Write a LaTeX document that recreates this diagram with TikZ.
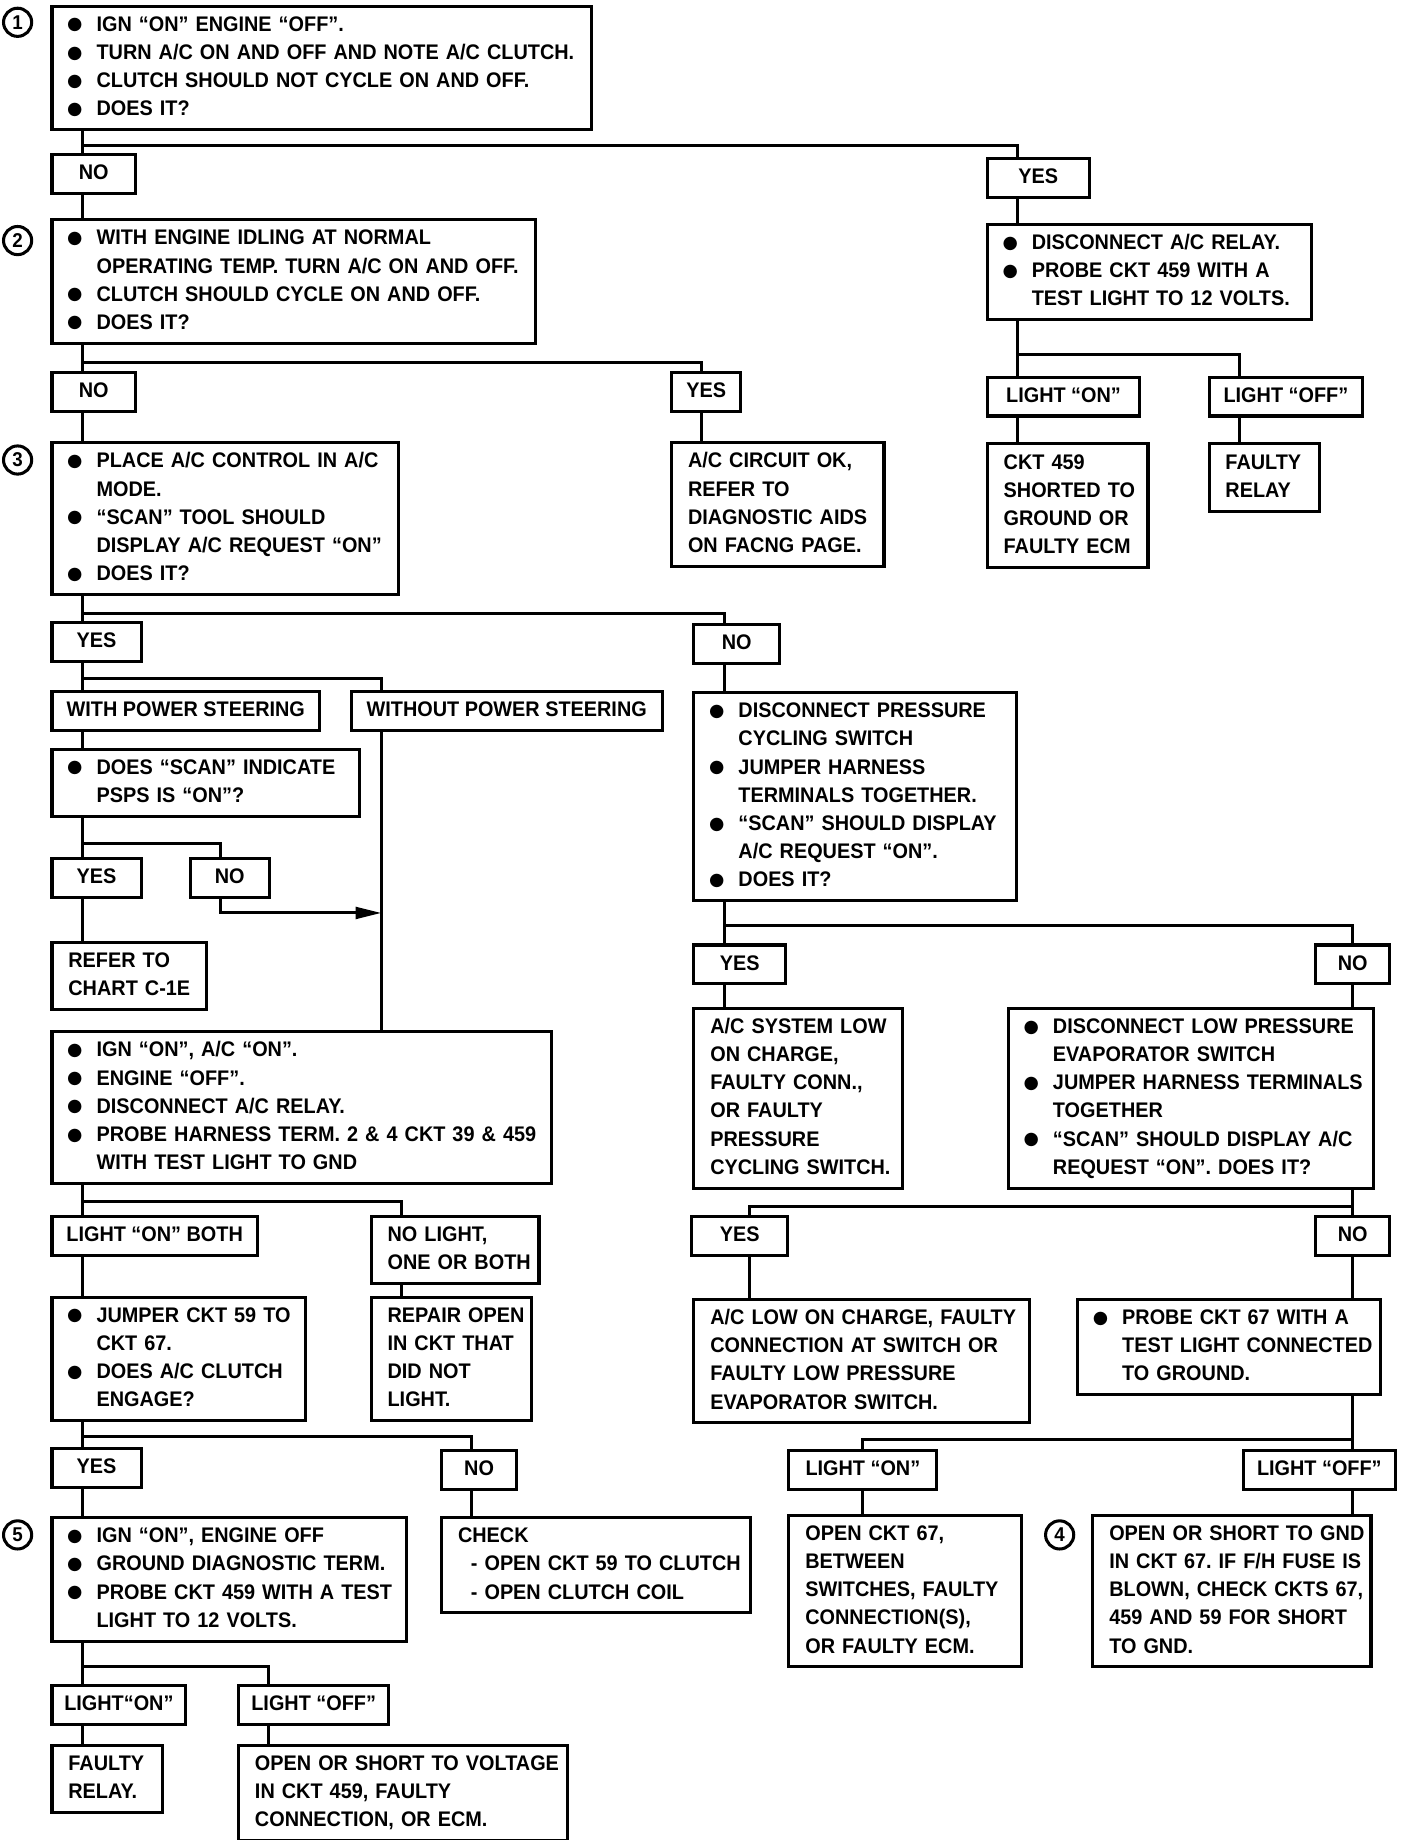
\documentclass[tikz,border=0pt]{standalone}
\usepackage{fontspec}
\setmainfont{Liberation Sans}[FakeStretch=0.94]
\newfontfamily\dotfont{DejaVu Sans}
\usetikzlibrary{arrows.meta}

\newcommand{\bul}{\makebox[12pt][l]{\hspace*{-0.5pt}\raisebox{0.6pt}{\dotfont\fontsize{7.5}{7.5}\selectfont ●}}}
\newcommand{\bulsp}{\hspace*{12pt}}

\begin{document}
\begin{tikzpicture}[
  x=0.5pt, y=-0.5pt,
  font=\bfseries\fontsize{9}{12}\selectfont\frenchspacing,
  line width=1.3pt,
  box/.style={draw, anchor=north west, align=left, inner xsep=7pt, inner ysep=2.3pt,
    execute at begin node={\rightskip=-10pt plus 1fil\strut}, execute at end node=\strut},
  tag/.style={draw, anchor=north west, inner xsep=4pt, inner ysep=2.3pt,
    execute at begin node=\strut},
  num/.style={draw, circle, inner sep=0pt, minimum size=12pt, font=\bfseries\fontsize{8.5}{8.5}\selectfont},
  tap/.style={xshift=13.5pt},
  arr/.style={-{Triangle[length=11pt,width=5pt]}}
]
\path[use as bounding box, fill=white] (0,0) rectangle (1200,1568);

% step 1
\node[num] (c1) at (15,19) {1};
\node[box, text width=216pt] (s1) at (43,4) {\bul IGN ``ON'' ENGINE ``OFF''.\\
\bul TURN A/C ON AND OFF AND NOTE A/C CLUTCH.\\
\bul CLUTCH SHOULD NOT CYCLE ON AND OFF.\\
\bul DOES IT?};
\node[tag, minimum width=35.5pt] (no1) at (43,130) {NO};
\node[tag, minimum width=43.5pt] (yes1) at (840,134) {YES};

% step 2
\node[num] (c2) at (15,205) {2};
\node[box, text width=192pt] (s2) at (43,186) {\bul WITH ENGINE IDLING AT NORMAL\\
\bulsp OPERATING TEMP. TURN A/C ON AND OFF.\\
\bul CLUTCH SHOULD CYCLE ON AND OFF.\\
\bul DOES IT?};
\node[box, text width=124pt] (r1) at (840,190) {\bul DISCONNECT A/C RELAY.\\
\bul PROBE CKT 459 WITH A\\
\bulsp TEST LIGHT TO 12 VOLTS.};
\node[tag, minimum width=35.5pt] (no2) at (43,316) {NO};
\node[tag, minimum width=29.5pt] (yes2) at (571,316) {YES};
\node[tag, minimum width=65pt] (lon1) at (840,320) {LIGHT ``ON''};
\node[tag, minimum width=65.5pt] (loff1) at (1029,320) {LIGHT ``OFF''};
\node[box, text width=76.5pt] (ok) at (571,376) {A/C CIRCUIT OK,\\ REFER TO\\ DIAGNOSTIC AIDS\\ ON FACNG PAGE.};
\node[box, text width=54.5pt] (r2) at (840,377) {CKT 459\\ SHORTED TO\\ GROUND OR\\ FAULTY ECM};
\node[box, text width=33pt] (r3) at (1029,377) {FAULTY\\ RELAY};

% step 3
\node[num] (c3) at (15,392) {3};
\node[box, text width=133.5pt] (s3) at (43,376) {\bul PLACE A/C CONTROL IN A/C\\
\bulsp MODE.\\
\bul ``SCAN'' TOOL SHOULD\\
\bulsp DISPLAY A/C REQUEST ``ON''\\
\bul DOES IT?};
\node[tag, minimum width=38pt] (yes3) at (43,529) {YES};
\node[tag, minimum width=36.5pt] (no3) at (590,531) {NO};
\node[tag, minimum width=114pt] (wps) at (43,588) {WITH POWER STEERING};
\node[tag, minimum width=132.5pt] (wops) at (298,588) {WITHOUT POWER STEERING};
\node[box, text width=117pt] (scan) at (43,637) {\bul DOES ``SCAN'' INDICATE\\
\bulsp PSPS IS ``ON''?};
\node[tag, minimum width=38pt] (yes4) at (43,730) {YES};
\node[tag, minimum width=33.5pt] (no4) at (161,730) {NO};
\node[box, align=center, text width=52pt, execute at begin node=\strut] (refer) at (43,802) {REFER TO\\ CHART C-1E};
\node[box, text width=199pt] (ign) at (43,878) {\bul IGN ``ON'', A/C ``ON''.\\
\bul ENGINE ``OFF''.\\
\bul DISCONNECT A/C RELAY.\\
\bul PROBE HARNESS TERM. 2 \& 4 CKT 39 \& 459\\
\bulsp WITH TEST LIGHT TO GND};
\node[tag, minimum width=87.5pt] (lonb) at (43,1035) {LIGHT ``ON'' BOTH};
\node[box, text width=57.5pt] (nol) at (315,1035) {NO LIGHT,\\ ONE OR BOTH};
\node[box, text width=94pt] (jump) at (43,1104) {\bul JUMPER CKT 59 TO\\
\bulsp CKT 67.\\
\bul DOES A/C CLUTCH\\
\bulsp ENGAGE?};
\node[box, text width=54.5pt] (repair) at (315,1104) {REPAIR OPEN\\ IN CKT THAT\\ DID NOT\\ LIGHT.};
\node[tag, minimum width=38pt] (yes5) at (43,1233) {YES};
\node[tag, minimum width=32pt] (no5) at (375,1235) {NO};

% step 5
\node[num] (c5) at (15,1308) {5};
\node[box, text width=137pt] (s5) at (43,1292) {\bul IGN ``ON'', ENGINE OFF\\
\bul GROUND DIAGNOSTIC TERM.\\
\bul PROBE CKT 459 WITH A TEST\\
\bulsp LIGHT TO 12 VOLTS.};
\node[box, text width=117.5pt] (check) at (375,1292) {CHECK\\
\hspace*{5.5pt}- OPEN CKT 59 TO CLUTCH\\
\hspace*{5.5pt}- OPEN CLUTCH COIL};
\node[tag, minimum width=57pt] (lon5) at (43,1435) {LIGHT``ON''};
\node[tag, minimum width=64pt] (loff5) at (202,1435) {LIGHT ``OFF''};
\node[box, text width=33pt] (frelay) at (43,1486) {FAULTY\\ RELAY.};
\node[box, text width=126pt] (volt) at (202,1486) {OPEN OR SHORT TO VOLTAGE\\ IN CKT 459, FAULTY\\ CONNECTION, OR ECM.};

% right column
\node[box, text width=123.5pt] (dp) at (590,589) {\bul DISCONNECT PRESSURE\\
\bulsp CYCLING SWITCH\\
\bul JUMPER HARNESS\\
\bulsp TERMINALS TOGETHER.\\
\bul ``SCAN'' SHOULD DISPLAY\\
\bulsp A/C REQUEST ``ON''.\\
\bul DOES IT?};
\node[tag, minimum width=39pt] (yes6) at (590,804) {YES};
\node[tag, minimum width=31.5pt] (no6) at (1120,804) {NO};
\node[box, text width=75pt] (sys) at (590,858) {A/C SYSTEM LOW\\ ON CHARGE,\\ FAULTY CONN.,\\ OR FAULTY\\ PRESSURE\\ CYCLING SWITCH.};
\node[box, text width=141.5pt] (dlp) at (858,858) {\bul DISCONNECT LOW PRESSURE\\
\bulsp EVAPORATOR SWITCH\\
\bul JUMPER HARNESS TERMINALS\\
\bulsp TOGETHER\\
\bul ``SCAN'' SHOULD DISPLAY A/C\\
\bulsp REQUEST ``ON''. DOES IT?};
\node[tag, minimum width=41pt] (yes7) at (588,1035) {YES};
\node[tag, minimum width=31.5pt] (no7) at (1120,1035) {NO};
\node[box, text width=129pt] (lowc) at (590,1106) {A/C LOW ON CHARGE, FAULTY\\ CONNECTION AT SWITCH OR\\ FAULTY LOW PRESSURE\\ EVAPORATOR SWITCH.};
\node[box, text width=115pt] (probe) at (917,1106) {\bul PROBE CKT 67 WITH A\\
\bulsp TEST LIGHT CONNECTED\\
\bulsp TO GROUND.};
\node[tag, minimum width=63pt] (lon8) at (671,1235) {LIGHT ``ON''};
\node[tag, minimum width=65pt] (loff8) at (1058,1235) {LIGHT ``OFF''};
\node[box, text width=85pt] (o67) at (671,1290) {OPEN CKT 67,\\ BETWEEN\\ SWITCHES, FAULTY\\ CONNECTION(S),\\ OR FAULTY ECM.};
\node[num] (c4) at (903,1308) {4};
\node[box, text width=104.5pt] (gnd) at (930,1290) {OPEN OR SHORT TO GND\\ IN CKT 67. IF F/H FUSE IS\\ BLOWN, CHECK CKTS 67,\\ 459 AND 59 FOR SHORT\\ TO GND.};

% connectors
\draw ([tap]s1.south west) -- ([tap]no1.north west);
\draw ([tap]s1.south west) ++(0,12) -| ([tap]yes1.north west);
\draw ([tap]no1.south west) -- ([tap]s2.north west);
\draw ([tap]yes1.south west) -- ([tap]r1.north west);
\draw ([tap]r1.south west) -- ([tap]lon1.north west);
\draw ([tap]r1.south west) ++(0,28) -| ([tap]loff1.north west);
\draw ([tap]lon1.south west) -- ([tap]r2.north west);
\draw ([tap]loff1.south west) -- ([tap]r3.north west);
\draw ([tap]s2.south west) -- ([tap]no2.north west);
\draw ([tap]s2.south west) ++(0,15) -| ([tap]yes2.north west);
\draw ([tap]yes2.south west) -- ([tap]ok.north west);
\draw ([tap]no2.south west) -- ([tap]s3.north west);
\draw ([tap]s3.south west) -- ([tap]yes3.north west);
\draw ([tap]s3.south west) ++(0,15) -| ([tap]no3.north west);
\draw ([tap]yes3.south west) -- ([tap]wps.north west);
\draw ([tap]yes3.south west) ++(0,13) -| ([tap]wops.north west);
\draw ([tap]wps.south west) -- ([tap]scan.north west);
\draw ([tap]scan.south west) -- ([tap]yes4.north west);
\draw ([tap]scan.south west) ++(0,22) -| ([tap]no4.north west);
\draw ([tap]yes4.south west) -- ([tap]refer.north west);
\coordinate (wx) at ([tap]wops.south west);
\coordinate (merge) at (wx |- 0,778);
\draw (wx) -- (wx |- ign.north);
\draw[arr] ([tap]no4.south west) |- (merge);
\draw ([tap]ign.south west) -- ([tap]lonb.north west);
\draw ([tap]ign.south west) ++(0,14) -| ([tap]nol.north west);
\draw ([tap]lonb.south west) -- ([tap]jump.north west);
\draw ([tap]nol.south west) -- ([tap]repair.north west);
\draw ([tap]jump.south west) -- ([tap]yes5.north west);
\draw ([tap]jump.south west) ++(0,12) -| ([tap]no5.north west);
\draw ([tap]yes5.south west) -- ([tap]s5.north west);
\draw ([tap]no5.south west) -- ([tap]check.north west);
\draw ([tap]s5.south west) -- ([tap]lon5.north west);
\draw ([tap]s5.south west) ++(0,20) -| ([tap]loff5.north west);
\draw ([tap]lon5.south west) -- ([tap]frelay.north west);
\draw ([tap]loff5.south west) -- ([tap]volt.north west);
\draw ([tap]no3.south west) -- ([tap]dp.north west);
\draw ([tap]dp.south west) -- ([tap]yes6.north west);
\draw ([tap]dp.south west) ++(0,20) -| (no6.north);
\draw ([tap]yes6.south west) -- ([tap]sys.north west);
\draw (no6.south) -- (dlp.north -| no6.south);
\draw (dlp.south -| no7.north) -- (no7.north);
\draw (dlp.south -| no7.north) ++(0,14) -| ([xshift=4pt]yes7.north);
\draw ([xshift=4pt]yes7.south) -- ([xshift=4pt]lowc.north -| yes7.south);
\draw (no7.south) -- (probe.north -| no7.south);
\draw (probe.south -| no7.south) -- (loff8.north -| no7.south);
\draw (probe.south -| no7.south) ++(0,37) -| (lon8.north);
\draw (lon8.south) -- (o67.north -| lon8.south);
\draw (loff8.south -| no7.south) -- (gnd.north -| no7.south);
\end{tikzpicture}
\end{document}
